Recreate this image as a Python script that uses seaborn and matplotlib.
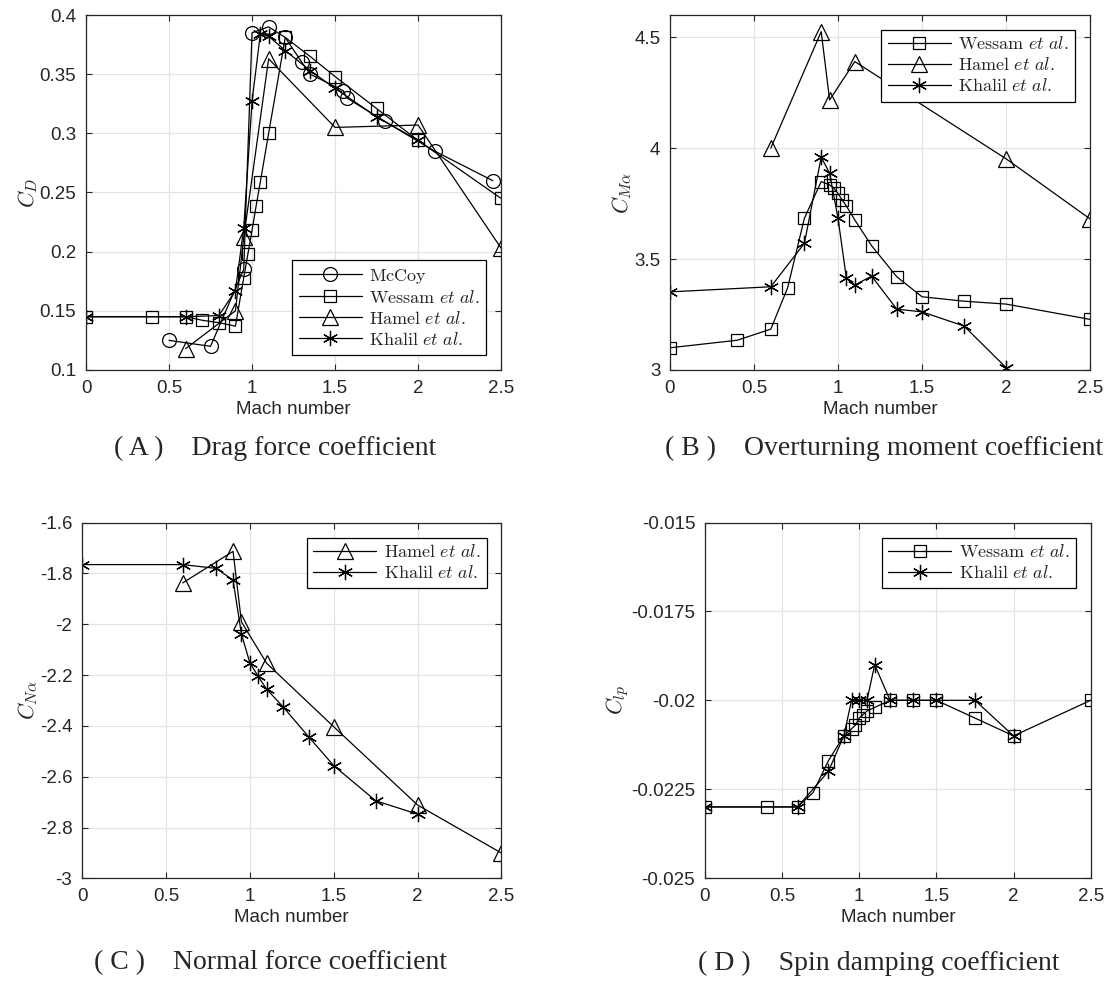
import matplotlib
matplotlib.use("Agg")
import matplotlib.pyplot as plt
import matplotlib.ticker as mticker
import numpy as np
import seaborn as sns

# (A) drag force coefficient
mccoy_cd_mach = [0.5, 0.75, 0.95, 1.0, 1.1, 1.2, 1.3, 1.35, 1.55, 1.57, 1.8, 2.1, 2.45]
mccoy_cd = [0.125, 0.120, 0.185, 0.385, 0.390, 0.381, 0.360, 0.350, 0.336, 0.330, 0.310, 0.285, 0.260]
wessam_cd_mach = [0, 0.4, 0.6, 0.7, 0.8, 0.9, 0.95, 0.975, 1.0, 1.025, 1.05, 1.1, 1.2, 1.35, 1.5, 1.75, 2.0, 2.5]
wessam_cd = [0.145, 0.145, 0.145, 0.142, 0.140, 0.137, 0.178, 0.198, 0.218, 0.239, 0.259, 0.300,
             0.381, 0.365, 0.348, 0.321, 0.294, 0.245]
hamel_cd_mach = [0.6, 0.9, 0.95, 1.1, 1.5, 2.0, 2.5]
hamel_cd = [0.118, 0.150, 0.212, 0.363, 0.305, 0.307, 0.203]
khalil_cd_mach = [0, 0.6, 0.8, 0.9, 0.95, 1.0, 1.05, 1.1, 1.2, 1.35, 1.5, 1.75, 2.0]
khalil_cd = [0.145, 0.145, 0.146, 0.167, 0.220, 0.327, 0.384, 0.382, 0.370, 0.353, 0.338, 0.314, 0.294]

# (B) overturning moment coefficient
wessam_cma = [3.10, 3.134, 3.184, 3.370, 3.684, 3.849, 3.834, 3.819, 3.796, 3.766, 3.739, 3.676,
              3.560, 3.420, 3.330, 3.310, 3.297, 3.228]
hamel_cma_mach = [0.6, 0.9, 0.95, 1.1, 2.0, 2.5]
hamel_cma = [4.00, 4.525, 4.217, 4.390, 3.952, 3.681]
khalil_cma_mach = [0, 0.6, 0.8, 0.9, 0.95, 1.0, 1.05, 1.1, 1.2, 1.35, 1.5, 1.75, 2.0]
khalil_cma = [3.352, 3.375, 3.571, 3.959, 3.887, 3.684, 3.413, 3.383, 3.423, 3.274, 3.262, 3.198, 3.011]

# (C) normal force coefficient
hamel_cna = [-1.837, -1.713, -1.990, -2.153, -2.403, -2.711, -2.900]
khalil_cna = [-1.765, -1.765, -1.780, -1.826, -2.038, -2.151, -2.205, -2.255, -2.326, -2.442,
              -2.556, -2.694, -2.747]

# (D) spin damping coefficient
wessam_clp = [-0.0230, -0.0230, -0.0230, -0.0226, -0.0217, -0.0210, -0.0208, -0.0207, -0.0205,
              -0.0204, -0.0203, -0.0202, -0.0200, -0.0200, -0.0200, -0.0205, -0.0210, -0.0200]
khalil_clp = [-0.0230, -0.0230, -0.0220, -0.0210, -0.0200, -0.0200, -0.0200, -0.0190, -0.0200,
              -0.0200, -0.0200, -0.0200, -0.0210]

lbl_mccoy = r"$\mathrm{McCoy}$"
lbl_wessam = r"$\mathrm{Wessam}\ \mathit{et\ al.}$"
lbl_hamel = r"$\mathrm{Hamel}\ \mathit{et\ al.}$"
lbl_khalil = r"$\mathrm{Khalil}\ \mathit{et\ al.}$"

sns.set_theme(style="whitegrid")
plt.rcParams["font.family"] = ["Liberation Sans", "DejaVu Sans"]
plt.rcParams["mathtext.fontset"] = "cm"
plt.rcParams["axes.unicode_minus"] = False

asterisk = (6, 2, 0)
styles = {
    "mccoy": dict(marker="o", markersize=10),
    "wessam": dict(marker="s", markersize=8),
    "hamel": dict(marker="^", markersize=11),
    "khalil": dict(marker=asterisk, markersize=11),
}


def draw(ax, x, y, key, label):
    sns.lineplot(x=x, y=y, ax=ax, color="black", linewidth=0.9, label=label,
                 markerfacecolor="none", markeredgecolor="black", markeredgewidth=0.9,
                 **styles[key])


fig = plt.figure(figsize=(11.1, 9.94), dpi=100)
axA = fig.add_axes([0.0775, 0.6278, 0.3739, 0.3571])
axB = fig.add_axes([0.6036, 0.6278, 0.3784, 0.3571])
axC = fig.add_axes([0.0739, 0.1162, 0.3779, 0.3580])
axD = fig.add_axes([0.6351, 0.1167, 0.3475, 0.3575])

draw(axA, mccoy_cd_mach, mccoy_cd, "mccoy", lbl_mccoy)
draw(axA, wessam_cd_mach, wessam_cd, "wessam", lbl_wessam)
draw(axA, hamel_cd_mach, hamel_cd, "hamel", lbl_hamel)
draw(axA, khalil_cd_mach, khalil_cd, "khalil", lbl_khalil)

draw(axB, wessam_cd_mach, wessam_cma, "wessam", lbl_wessam)
draw(axB, hamel_cma_mach, hamel_cma, "hamel", lbl_hamel)
draw(axB, khalil_cma_mach, khalil_cma, "khalil", lbl_khalil)

draw(axC, hamel_cd_mach, hamel_cna, "hamel", lbl_hamel)
draw(axC, khalil_cd_mach, khalil_cna, "khalil", lbl_khalil)

draw(axD, wessam_cd_mach, wessam_clp, "wessam", lbl_wessam)
draw(axD, khalil_cd_mach, khalil_clp, "khalil", lbl_khalil)

setup = [
    (axA, (0.1, 0.4), np.arange(0.1, 0.401, 0.05), r"$C_D$", "lower right"),
    (axB, (3.0, 4.6), [3, 3.5, 4, 4.5], r"$C_{M\alpha}$", "upper right"),
    (axC, (-3.0, -1.6), np.arange(-3.0, -1.59, 0.2), r"$C_{N\alpha}$", "upper right"),
    (axD, (-0.025, -0.015), [-0.025, -0.0225, -0.02, -0.0175, -0.015], r"$C_{lp}$", "upper right"),
]
captions = [("( A )    Drag force coefficient", 275, 448),
            ("( B )    Overturning moment coefficient", 884, 448),
            ("( C )    Normal force coefficient", 271, 963),
            ("( D )    Spin damping coefficient", 879, 963)]

W, H = 1110, 994
for (ax, ylim, yticks, ylab, loc), (cap, cx, cy) in zip(setup, captions):
    ax.set_facecolor("white")
    ax.set_xlim(0, 2.5)
    ax.set_ylim(*ylim)
    ax.set_xticks([0, 0.5, 1, 1.5, 2, 2.5])
    ax.set_yticks(yticks)
    ax.xaxis.set_major_formatter(mticker.FormatStrFormatter("%g"))
    ax.yaxis.set_major_formatter(mticker.FuncFormatter(lambda v, p: f"{round(v, 6):g}"))
    ax.grid(True, color="#e3e3e3", linewidth=0.9)
    for s in ax.spines.values():
        s.set_color("#262626")
        s.set_linewidth(0.9)
    ax.tick_params(direction="in", length=4, width=0.8, colors="#262626", labelsize=13.5,
                   top=True, right=True, bottom=True, left=True, pad=7)
    ax.set_xlabel("Mach number", fontsize=13.5, color="#262626", labelpad=3)
    ax.set_ylabel(ylab, fontsize=16, color="#262626", labelpad=0)
    leg = ax.legend(loc=loc, fontsize=13, frameon=True, fancybox=False, handlelength=3.5,
                    borderaxespad=0.83, labelspacing=0.22, borderpad=0.35, handletextpad=0.4)
    leg.get_frame().set_edgecolor("black")
    leg.get_frame().set_linewidth(0.9)
    leg.get_frame().set_alpha(1)
    fig.text(cx / W, 1 - cy / H, cap, ha="center", va="center",
             fontsize=20, family=["Liberation Serif", "DejaVu Serif"])

fig.savefig("out.png", dpi=100)
